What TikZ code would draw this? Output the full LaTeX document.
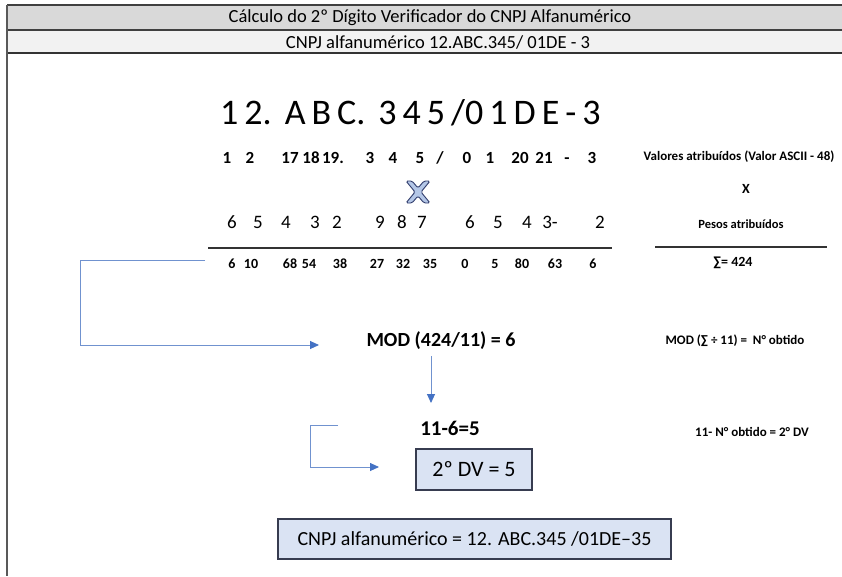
\documentclass[tikz,border=0pt]{standalone}
\usepackage{fontspec}
\setmainfont{Carlito}
\usetikzlibrary{arrows.meta}
\definecolor{hdrA}{RGB}{217,217,217}
\definecolor{hdrB}{RGB}{242,242,242}
\definecolor{conn}{RGB}{112,146,207}
\definecolor{connTip}{RGB}{68,114,196}
\definecolor{boxFill}{RGB}{218,227,243}
\definecolor{boxLine}{RGB}{55,60,80}
\definecolor{xFill}{RGB}{180,199,231}
\definecolor{xLine}{RGB}{47,59,107}
\newcommand{\bsp}{\hspace{6pt}}
\newcommand{\bspw}{\hspace{13pt}}
\newcommand{\slsym}{/}
\tikzset{
  conline/.style={draw=conn, line width=0.9pt},
  conarrow/.style={conline, -{Triangle[length=9pt,width=8pt,fill=connTip,color=connTip]}},
  resbox/.style={draw=boxLine, fill=boxFill, line width=1.2pt, inner sep=0pt},
  val/.style={font=\fontsize{17}{20}\selectfont\bfseries, anchor=base},
  wgt/.style={font=\fontsize{19}{21}\selectfont, anchor=base},
  prod/.style={font=\fontsize{14}{16}\selectfont\bfseries, anchor=base},
  note/.style={font=\fontsize{13}{15}\selectfont\bfseries},
  calc/.style={font=\fontsize{20}{24}\selectfont\bfseries},
  hdr/.style={font=\fontsize{18.5}{22}\selectfont},
}
\begin{document}
\begin{tikzpicture}[x=1pt,y=-1pt]
\useasboundingbox (0,0) rectangle (842,576);
\fill[white] (0,0) rectangle (842,576);
% header
\fill[hdrA] (7,5) rectangle (842,30);
\fill[hdrB] (7,30) rectangle (842,53);
\draw[line width=1.3pt, black!75] (7,5) -- (842,5);
\draw[line width=1.5pt, black!75] (7,30) -- (842,30);
\draw[line width=1.8pt, black!80] (7,53) -- (842,53);
\draw[line width=1.3pt, black!65] (7,5) -- (7,576);
\node[hdr] (title) at (430,18) {Cálculo do 2º Dígito Verificador do CNPJ Alfanumérico};
\node[hdr] (sub) at (438,42) {CNPJ alfanumérico 12.ABC.345/ 01DE - 3};
% big line
\node[font=\fontsize{36}{40}\selectfont, anchor=base west, inner sep=0pt] (big) at (220,124) {1\bsp2.\bspw A\bsp B\bsp C.\bspw 3\bsp4\bsp5\bsp/0\bsp1\bsp D\bsp E\bsp-\bsp3};
% values
\foreach \t/\x [count=\i] in {1/227,2/250,17/290,18/311,19./333,3/370,4/393,5/420,\slsym/440,0/467,1/490,20/520,21/544,-/567,3/592}
  \node[val] (v\i) at (\x,163) {\t};
% X symbol
\draw[fill=xFill, draw=xLine, line width=0.9pt, rounded corners=1.5pt]
  (406,181) -- (412,181) -- (418,188) -- (424,181) -- (430,181) -- (421,192) -- (430,203) -- (424,203) -- (418,196) -- (412,203) -- (406,203) -- (415,192) -- cycle;
% weights
\foreach \t/\x [count=\i] in {6/232,5/258,4/286,3/315,2/337,9/380,8/402,7/422,6/470,5/498,4/527,3-/550,2/600}
  \node[wgt] (w\i) at (\x,228) {\t};
\draw[line width=1.3pt, black!80] (208,248) -- (612,248);
% products
\foreach \t/\x [count=\i] in {6/232,10/251,68/290,54/309,38/340,27/377,32/403,35/430,0/465,5/495,80/522,63/555,6/593}
  \node[prod] (p\i) at (\x,268) {\t};
% right column
\node[note] (n1) at (739,157) {Valores atribuídos (Valor ASCII - 48)};
\node[font=\fontsize{14}{16}\selectfont\bfseries] (n2) at (746,189) {X};
\node[note, font=\fontsize{12.5}{15}\selectfont\bfseries] (n3) at (741,224) {Pesos atribuídos};
\draw[line width=1.3pt, black!80] (655,247) -- (827,247);
\node[note, font=\fontsize{14}{16}\selectfont\bfseries] (n4) at (733,263) {∑= 424};
% MOD
\node[calc] (mod) at (441,341) {MOD (424/11) = 6};
\node[note] (n5) at (735,341) {MOD (∑ ÷ 11) = \ N° obtido};
\coordinate (c1) at (205,260);
\draw[conarrow] (c1) -- (80,260) -- (80,345) -- (319,345);
\coordinate (c2) at (431,356);
\draw[conarrow] (c2) -- (431,403);
% 11-6=5
\node[calc, font=\fontsize{21}{24}\selectfont\bfseries] (sub2) at (450,428) {11-6=5};
\node[note] (n6) at (752,432) {11- N° obtido = 2° DV};
\node[resbox, minimum width=116pt, minimum height=41pt, font=\fontsize{22}{26}\selectfont] (dv) at (474,469.5) {2º DV = 5};
\coordinate (c3) at (338,425);
\draw[conarrow] (c3) -- (310,425) -- (310,467) -- (379,467);
% final
\node[resbox, minimum width=393pt, minimum height=40pt, font=\fontsize{20}{24}\selectfont] (final) at (474.5,539) {CNPJ alfanumérico = 12. ABC.345 /01DE–35};
\end{tikzpicture}
\end{document}
